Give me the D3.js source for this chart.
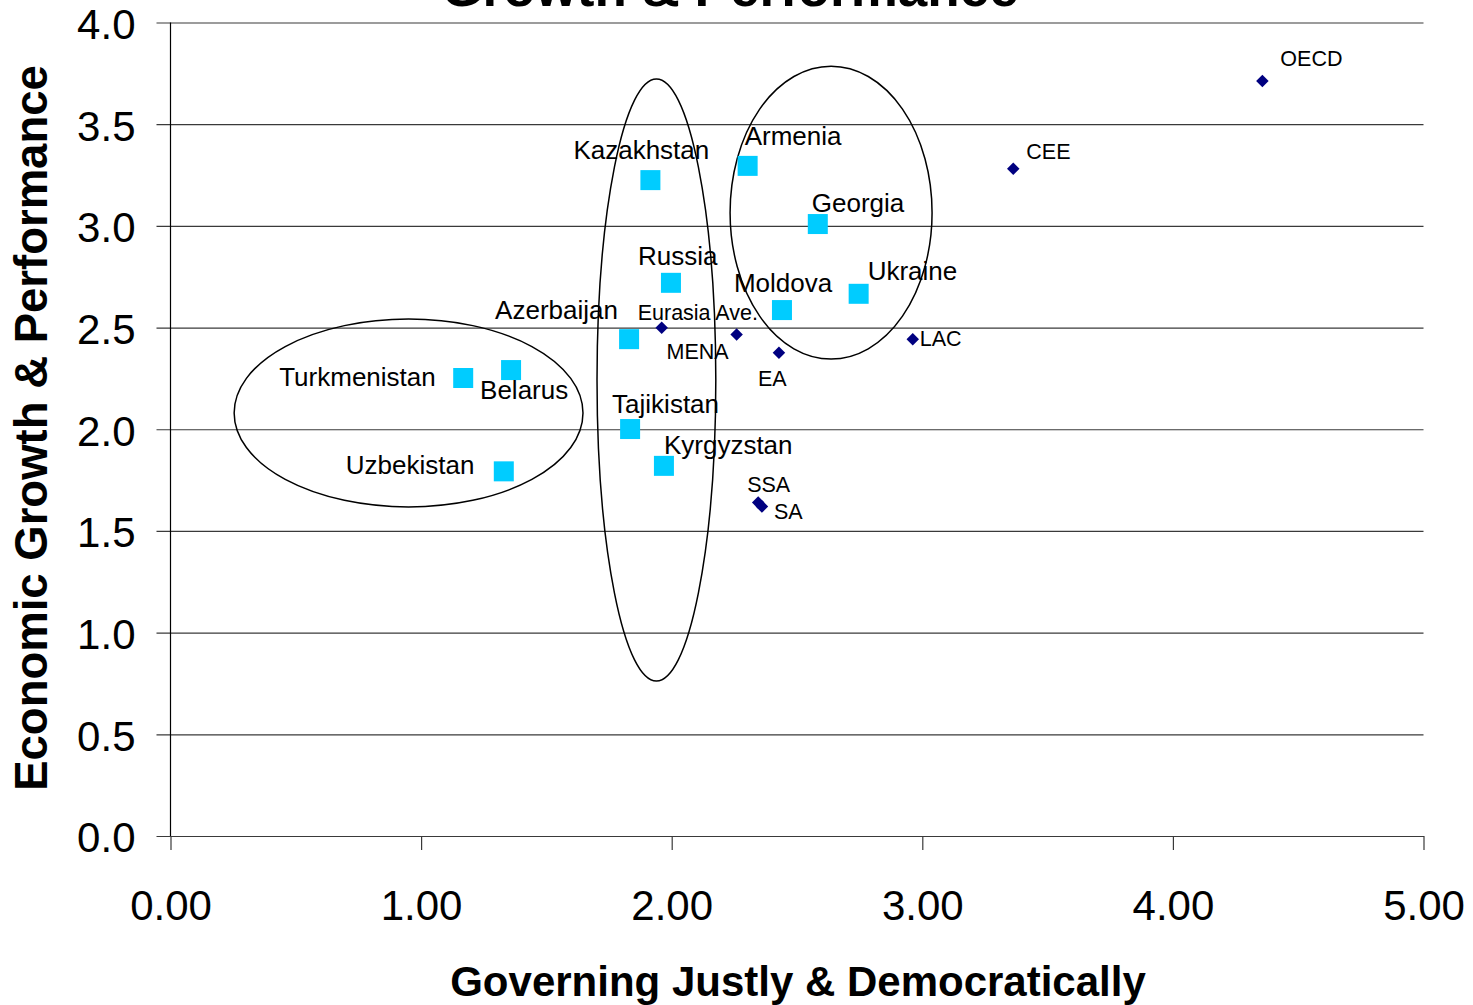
<!DOCTYPE html>
<html lang="en">
	<head>
		<meta charset="utf-8">
		<title>Growth & Performance</title>
		<script type="text/javascript" src="https://cdn.jsdelivr.net/npm/d3@7"></script>
		<style type="text/css">
			body { margin: 0; background: #fff; }
			text { font-family: Arial, "Liberation Sans", sans-serif; fill: #000; }
		</style>
	</head>
	<body>
		<script type="text/javascript">

			//Eurasian countries (light blue squares)
			var countries = ["Kazakhstan", "Armenia", "Georgia", "Russia", "Ukraine", "Moldova", "Azerbaijan",
							 "Turkmenistan", "Belarus", "Uzbekistan", "Tajikistan", "Kyrgyzstan"];
			var countryGJD = [1.915, 2.303, 2.583, 1.997, 2.746, 2.44, 1.83, 1.168, 1.359, 1.33, 1.834, 1.969];
			var countryEGP = [3.225, 3.295, 3.009, 2.72, 2.666, 2.586, 2.443, 2.252, 2.291, 1.793, 2.001, 1.82];

			//Regional averages (navy diamonds)
			var regions = ["OECD", "CEE", "LAC", "Eurasia Ave.", "MENA", "EA", "SSA", "SA"];
			var regionGJD = [4.357, 3.363, 2.962, 1.96, 2.259, 2.428, 2.345, 2.36];
			var regionEGP = [3.712, 3.281, 2.443, 2.499, 2.466, 2.376, 1.64, 1.62];

			//Axis ticks
			var xTicks = [0, 1, 2, 3, 4, 5];
			var yTicks = [0, 0.5, 1, 1.5, 2, 2.5, 3, 3.5, 4];

			//Hand-drawn groupings (data units: cx, cy, rx, ry)
			var groupEllipses = [
				[0.950, 2.080, 0.696, 0.462],
				[1.939, 2.242, 0.237, 1.480],
				[2.636, 3.065, 0.403, 0.720]
			];

			//label offsets from the marker, px
			var countryLabelOffset = {
				"Kazakhstan": [-77, -21], "Armenia": [-3, -21], "Georgia": [-6, -12], "Russia": [-33, -18],
				"Ukraine": [9, -14], "Moldova": [-48, -18], "Azerbaijan": [-134, -20], "Turkmenistan": [-184, 8],
				"Belarus": [-31, 29], "Uzbekistan": [-158, 3], "Tajikistan": [-18, -16], "Kyrgyzstan": [0, -12]
			};
			var regionLabelOffset = {
				"OECD": [18, -15], "CEE": [13, -10], "LAC": [7, 7], "Eurasia Ave.": [-24, -8],
				"MENA": [-70, 25], "EA": [-21, 33], "SSA": [-11, -10], "SA": [12, 12]
			};

			var w = 1473;
			var h = 1005;
			var plotLeft = 170.5, plotRight = 1423.5, plotTop = 22.5, plotBottom = 836;

			var svg = d3.select("body")
						.append("svg")
						.attr("width", w)
						.attr("height", h);

			var x = d3.scaleLinear().domain([0, 5]).range([plotLeft, plotRight]);
			var y = d3.scaleLinear().domain([0, 4]).range([plotBottom, plotTop]);

			//gridlines + y axis
			var yAxis = d3.axisLeft(y)
						  .tickValues(yTicks)
						  .tickSize(-(plotRight - plotLeft))
						  .tickSizeOuter(0)
						  .tickPadding(35)
						  .tickFormat(d3.format(".1f"));

			var gy = svg.append("g")
						.attr("transform", "translate(" + plotLeft + ",0)")
						.call(yAxis);
			gy.select(".domain").remove();
			gy.selectAll(".tick line")
			  .attr("x1", -14)
			  .attr("stroke", "#3a3a3a")
			  .attr("stroke-width", 1.2);
			gy.selectAll(".tick text")
			  .attr("font-size", "42px")
			  .attr("dy", "0.38em")
			  .attr("font-family", "Arial, 'Liberation Sans', sans-serif")
			  .attr("fill", "#000");

			svg.append("line")
			   .attr("x1", plotLeft).attr("x2", plotLeft)
			   .attr("y1", plotTop).attr("y2", plotBottom)
			   .attr("stroke", "#000")
			   .attr("stroke-width", 1.2);

			//x axis
			var xAxis = d3.axisBottom(x)
						  .tickValues(xTicks)
						  .tickSize(14)
						  .tickSizeOuter(0)
						  .tickPadding(40)
						  .tickFormat(d3.format(".2f"));

			var gx = svg.append("g")
						.attr("transform", "translate(0," + plotBottom + ")")
						.call(xAxis);
			gx.select(".domain")
			  .attr("stroke", "#3a3a3a")
			  .attr("stroke-width", 1.2);
			gx.selectAll(".tick line")
			  .attr("stroke", "#3a3a3a")
			  .attr("stroke-width", 1.2);
			gx.selectAll(".tick text")
			  .attr("font-size", "42px")
			  .attr("font-family", "Arial, 'Liberation Sans', sans-serif")
			  .attr("fill", "#000");

			//title (cut off at the top of the picture)
			svg.append("text")
			   .attr("x", 730)
			   .attr("y", 6)
			   .attr("text-anchor", "middle")
			   .attr("font-size", "53px")
			   .attr("font-weight", "bold")
			   .text("Growth & Performance");

			//axis titles
			svg.append("text")
			   .attr("x", 798)
			   .attr("y", 996)
			   .attr("text-anchor", "middle")
			   .attr("font-size", "42px")
			   .attr("font-weight", "bold")
			   .text("Governing Justly & Democratically");

			svg.append("text")
			   .attr("transform", "translate(47,428) rotate(-90)")
			   .attr("text-anchor", "middle")
			   .attr("font-size", "45.5px")
			   .attr("font-weight", "bold")
			   .text("Economic Growth & Performance");

			//ellipses
			svg.selectAll(".group")
			   .data(groupEllipses)
			   .enter()
			   .append("ellipse")
			   .attr("class", "group")
			   .attr("cx", function(d){ return x(d[0]); })
			   .attr("cy", function(d){ return y(d[1]); })
			   .attr("rx", function(d){ return x(d[2]) - x(0); })
			   .attr("ry", function(d){ return y(0) - y(d[3]); })
			   .attr("fill", "none")
			   .attr("stroke", "#000")
			   .attr("stroke-width", 1.5);

			//regional diamonds
			var diamond = d3.symbol().type(d3.symbolSquare).size(78);
			svg.selectAll(".region")
			   .data(regions)
			   .enter()
			   .append("path")
			   .attr("class", "region")
			   .attr("d", diamond)
			   .attr("transform", function(d, i){
				   return "translate(" + x(regionGJD[i]) + "," + y(regionEGP[i]) + ") rotate(45)";
			   })
			   .attr("fill", "#000080");

			svg.selectAll(".regionLabel")
			   .data(regions)
			   .enter()
			   .append("text")
			   .attr("class", "regionLabel")
			   .attr("x", function(d, i){ return x(regionGJD[i]) + regionLabelOffset[d][0]; })
			   .attr("y", function(d, i){ return y(regionEGP[i]) + regionLabelOffset[d][1]; })
			   .attr("font-size", "21.5px")
			   .text(function(d){ return d; });

			//country squares
			svg.selectAll(".country")
			   .data(countries)
			   .enter()
			   .append("rect")
			   .attr("class", "country")
			   .attr("x", function(d, i){ return x(countryGJD[i]) - 10; })
			   .attr("y", function(d, i){ return y(countryEGP[i]) - 10; })
			   .attr("width", 20)
			   .attr("height", 20)
			   .attr("fill", "#00CCFF");

			svg.selectAll(".countryLabel")
			   .data(countries)
			   .enter()
			   .append("text")
			   .attr("class", "countryLabel")
			   .attr("x", function(d, i){ return x(countryGJD[i]) + countryLabelOffset[d][0]; })
			   .attr("y", function(d, i){ return y(countryEGP[i]) + countryLabelOffset[d][1]; })
			   .attr("font-size", "26px")
			   .text(function(d){ return d; });

		</script>
	</body>
</html>
